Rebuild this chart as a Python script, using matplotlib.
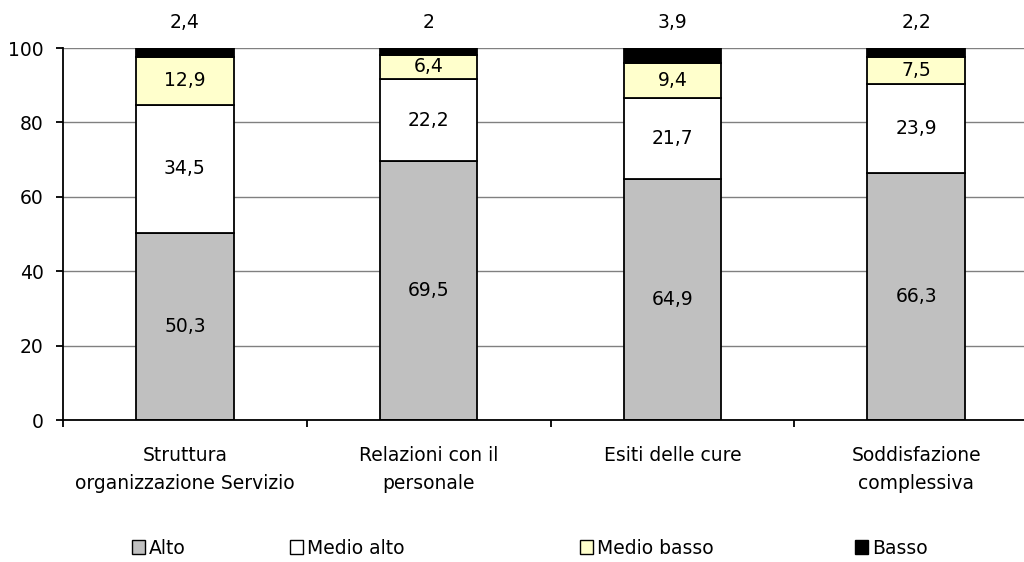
import matplotlib
matplotlib.use("Agg")
import matplotlib.pyplot as plt
from matplotlib.patches import Patch
import numpy as np

categories = ["Struttura\norganizzazione Servizio", "Relazioni con il\npersonale",
              "Esiti delle cure", "Soddisfazione\ncomplessiva"]
alto = [50.3, 69.5, 64.9, 66.3]
medio_alto = [34.5, 22.2, 21.7, 23.9]
medio_basso = [12.9, 6.4, 9.4, 7.5]
basso = [2.4, 2.0, 3.9, 2.2]
series_names = ["Alto", "Medio alto", "Medio basso", "Basso"]
colors = ["#C0C0C0", "#FFFFFF", "#FFFFCC", "#000000"]
yticks = [0, 20, 40, 60, 80, 100]

plt.rcParams["font.family"] = ["DejaVu Sans"]
FS = 13.5


def fmt(v):
    s = f"{v:.1f}".replace(".", ",")
    return s[:-2] if s.endswith(",0") else s


fig = plt.figure(figsize=(10.24, 5.62), dpi=100)
ax = fig.add_axes([63 / 1024, 142 / 562, 975 / 1024, 372 / 562])

x = np.arange(len(categories))
width = 0.40
bottom = np.zeros(len(categories))
data = [alto, medio_alto, medio_basso, basso]
for vals, col in zip(data, colors):
    ax.bar(x, vals, width, bottom=bottom, color=col, edgecolor="black",
           linewidth=1.3, zorder=3)
    bottom += np.array(vals)

# labels inside the first three segments
bottom = np.zeros(len(categories))
for vals in data[:3]:
    for i, v in enumerate(vals):
        ax.text(x[i], bottom[i] + v / 2, fmt(v), ha="center", va="center",
                fontsize=FS, zorder=4)
    bottom += np.array(vals)
# Basso values written above the plot
for i, v in enumerate(basso):
    ax.text(x[i], 106.8, fmt(v), ha="center", va="center", fontsize=FS,
            clip_on=False)

ax.set_xlim(-0.5, len(categories) - 0.5)
ax.set_ylim(0, 100)
ax.set_yticks(yticks)
ax.set_yticklabels([str(t) for t in yticks], fontsize=FS)
ax.set_xticks(x)
ax.set_xticklabels(categories, fontsize=FS, linespacing=1.55)
ax.tick_params(axis="x", length=0, pad=19)
ax.set_xticks(np.arange(len(categories) + 1) - 0.5, minor=True)
ax.tick_params(axis="x", which="minor", length=5, width=1.3, direction="out")
ax.tick_params(axis="y", length=5, width=1.3, direction="out", pad=9)
ax.grid(axis="y", color="#808080", linewidth=1.0, zorder=0)
for s in ["top", "right"]:
    ax.spines[s].set_visible(False)
for s in ["left", "bottom"]:
    ax.spines[s].set_linewidth(1.3)
    ax.spines[s].set_zorder(5)

legend_x = [132, 290, 580, 855]
for name, col, lx in zip(series_names, colors, legend_x):
    h = Patch(facecolor=col, edgecolor="black", linewidth=1)
    fig.legend([h], [name], loc="center left",
               bbox_to_anchor=(lx / 1024, 1 - 548 / 562), frameon=False,
               fontsize=FS, handlelength=0.7, handleheight=0.7,
               handletextpad=0.2, borderpad=0, borderaxespad=0)

fig.savefig("out.png", dpi=100, facecolor="white")
